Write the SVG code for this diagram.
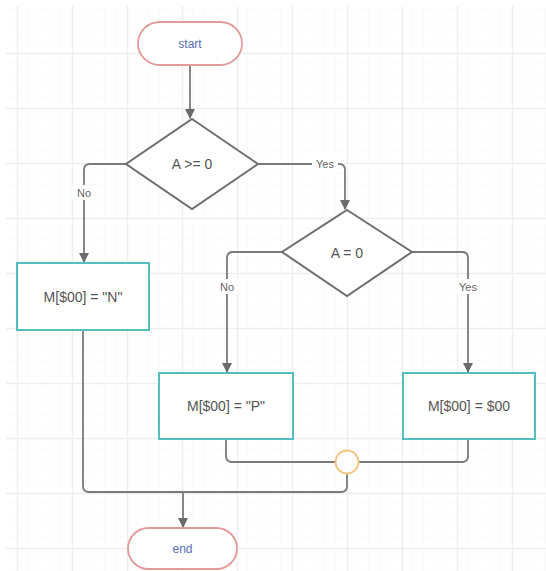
<svg xmlns="http://www.w3.org/2000/svg" width="546" height="571" viewBox="0 0 546 571">
<defs>
<pattern id="minor" x="6" y="9" width="11" height="11" patternUnits="userSpaceOnUse">
<path d="M11 0V11M0 11H11" fill="none" stroke="#f7f7f7" stroke-width="1"/>
</pattern>
<pattern id="major" x="17" y="53" width="55" height="55" patternUnits="userSpaceOnUse">
<path d="M0.5 0V55M0 0.5H55" fill="none" stroke="#eeeeee" stroke-width="1.5"/>
</pattern>
<marker id="arr" viewBox="0 0 10 10" refX="9" refY="5" markerWidth="10" markerHeight="10" markerUnits="userSpaceOnUse" orient="auto">
<path d="M0 0L10 5L0 10z" fill="#6b6b6b"/>
</marker>
</defs>
<style>
.term{fill:#fff;stroke:#e29a9a;stroke-width:1.8}
.termt{font-family:"Liberation Sans",Arial,sans-serif;font-size:12px;fill:#5b6fb8;text-anchor:middle;dominant-baseline:central}
.proc{fill:#fff;stroke:#52c0c0;stroke-width:2}
.dec{fill:#fff;stroke:#6e6e6e;stroke-width:2}
.t{font-family:"Liberation Sans",Arial,sans-serif;font-size:14px;fill:#555;text-anchor:middle;dominant-baseline:central}
.lbl{font-family:"Liberation Sans",Arial,sans-serif;font-size:11px;fill:#666;text-anchor:middle;dominant-baseline:central}
.c{fill:none;stroke:#7a7a7a;stroke-width:1.8}
.lb{fill:#fff}
</style>
<rect width="546" height="571" fill="#fff"/>
<rect x="6" y="6" width="540" height="565" fill="url(#minor)"/>
<rect x="6" y="6" width="540" height="565" fill="url(#major)"/>

<g id="connectors">
<path class="c" d="M190 65V118" marker-end="url(#arr)"/>
<path class="c" d="M126 164H90Q84 164 84 170V262" marker-end="url(#arr)"/>
<rect class="lb" x="72" y="185" width="22" height="15"/>
<text class="lbl" x="84" y="193">No</text>
<path class="c" d="M259 164H339Q345 164 345 170V209" marker-end="url(#arr)"/>
<rect class="lb" x="312" y="157" width="26" height="15"/>
<text class="lbl" x="325" y="164">Yes</text>
<path class="c" d="M282 252H233Q227 252 227 258V372" marker-end="url(#arr)"/>
<rect class="lb" x="216" y="279" width="22" height="15"/>
<text class="lbl" x="227" y="287">No</text>
<path class="c" d="M412 252H462Q468 252 468 258V372" marker-end="url(#arr)"/>
<rect class="lb" x="455" y="279" width="26" height="15"/>
<text class="lbl" x="468" y="287">Yes</text>
<path class="c" d="M226 439V456Q226 462 232 462H336"/>
<path class="c" d="M468 439V456Q468 462 462 462H358"/>
<path class="c" d="M347 473V486Q347 492 341 492H183"/>
<path class="c" d="M83 330V486Q83 492 89 492H183"/>
<path class="c" d="M183 492V527" marker-end="url(#arr)"/>
</g>

<g id="start">
<rect class="term" x="138" y="22" width="104" height="43" rx="21.5"/>
<text class="termt" x="190" y="43.5">start</text>
</g>
<g id="decision1">
<polygon class="dec" points="192,119 258,164 192,209 126,164"/>
<text class="t" x="192" y="164">A &gt;= 0</text>
</g>
<g id="boxN">
<rect class="proc" x="17" y="263" width="132" height="67"/>
<text class="t" x="83" y="296.5">M[$00] = "N"</text>
</g>
<g id="decision2">
<polygon class="dec" points="347,210 412,252 347,296 282,252"/>
<text class="t" x="347" y="253">A = 0</text>
</g>
<g id="boxP">
<rect class="proc" x="159" y="373" width="134" height="66"/>
<text class="t" x="226" y="406">M[$00] = "P"</text>
</g>
<g id="box00">
<rect class="proc" x="403" y="373" width="132" height="66"/>
<text class="t" x="469" y="406">M[$00] = $00</text>
</g>
<g id="merge">
<circle cx="347" cy="462" r="11.5" fill="#fff" stroke="#f2c585" stroke-width="2"/>
</g>
<g id="end">
<rect class="term" x="128" y="528" width="109" height="41" rx="20.5"/>
<text class="termt" x="182.5" y="548.5">end</text>
</g>
</svg>
